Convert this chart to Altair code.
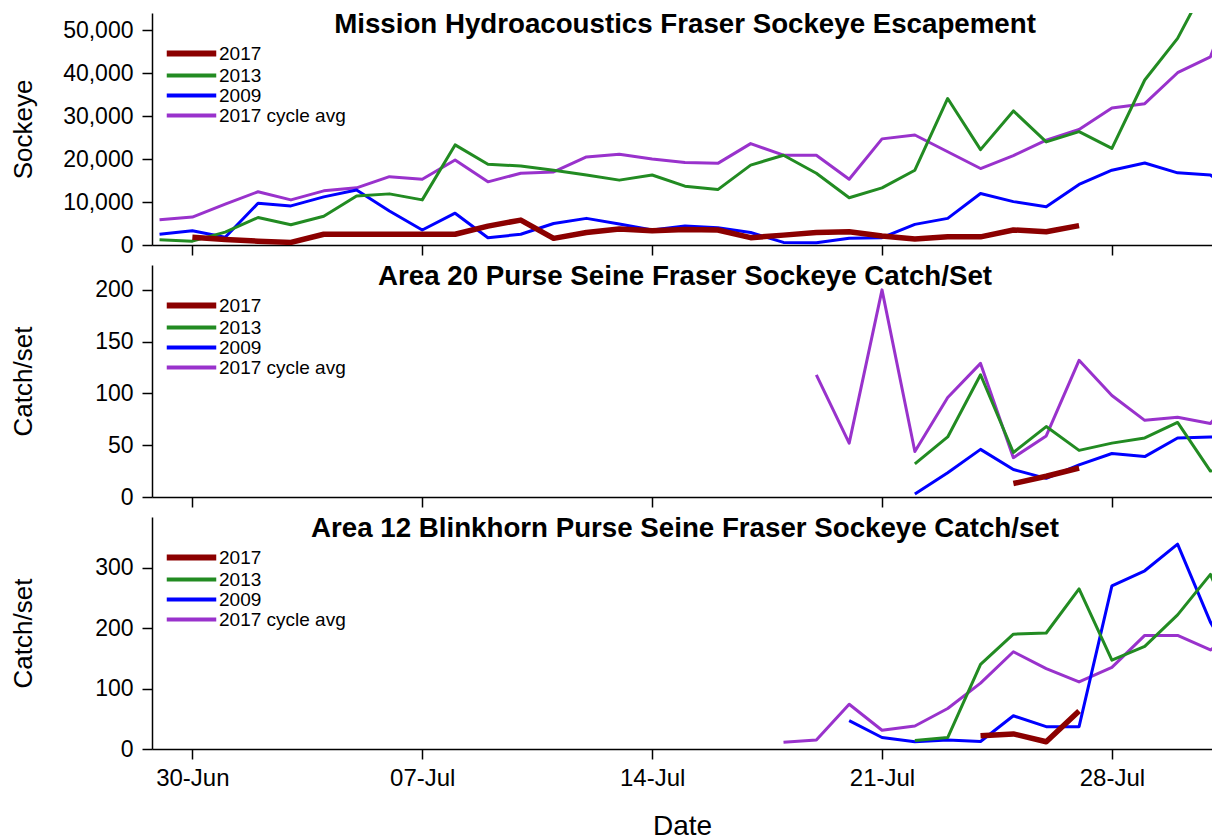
import altair as alt
import pandas as pd

FONT = "Liberation Sans"

DATES = [
    "2017-06-29T00:00:00", "2017-06-30T00:00:00", "2017-07-01T00:00:00", "2017-07-02T00:00:00",
    "2017-07-03T00:00:00", "2017-07-04T00:00:00", "2017-07-05T00:00:00", "2017-07-06T00:00:00",
    "2017-07-07T00:00:00", "2017-07-08T00:00:00", "2017-07-09T00:00:00", "2017-07-10T00:00:00",
    "2017-07-11T00:00:00", "2017-07-12T00:00:00", "2017-07-13T00:00:00", "2017-07-14T00:00:00",
    "2017-07-15T00:00:00", "2017-07-16T00:00:00", "2017-07-17T00:00:00", "2017-07-18T00:00:00",
    "2017-07-19T00:00:00", "2017-07-20T00:00:00", "2017-07-21T00:00:00", "2017-07-22T00:00:00",
    "2017-07-23T00:00:00", "2017-07-24T00:00:00", "2017-07-25T00:00:00", "2017-07-26T00:00:00",
    "2017-07-27T00:00:00", "2017-07-28T00:00:00", "2017-07-29T00:00:00", "2017-07-30T00:00:00",
    "2017-07-31T00:00:00", "2017-08-01T00:00:00",
]

SERIES = ["2017", "2013", "2009", "2017 cycle avg"]
COLORS = ["#8B0000", "#228B22", "#0000FF", "#9932CC"]
WIDTHS = {"2017": 5.5, "2013": 3, "2009": 3, "2017 cycle avg": 3}
DRAW_ORDER = ["2017 cycle avg", "2009", "2013", "2017"]

# Panel 1: Mission hydroacoustics escapement (Jun 29 .. Aug 1)
ESC_2017 = [None, 1800, 1300, 900, 600, 2500, 2500, 2500, 2500, 2500, 4400, 5800, 1550, 2900,
            3700, 3300, 3600, 3500, 1700, 2300, 2900, 3100, 2100, 1400, 1900, 1900, 3500, 3100,
            4500, None, None, None, None, None]
ESC_2013 = [1200, 900, 3000, 6400, 4700, 6700, 11400, 11900, 10500, 23300, 18800, 18400, 17400,
            16300, 15100, 16300, 13700, 12900, 18600, 20900, 16700, 11000, 13300, 17400, 34100,
            22200, 31200, 24000, 26400, 22500, 38400, 48100, 62500, None]
ESC_2009 = [2500, 3300, 1800, 9700, 9100, 11200, 12800, 7900, 3500, 7400, 1700, 2500, 5000, 6200,
            4900, 3500, 4400, 4000, 2900, 600, 500, 1550, 1700, 4800, 6200, 12000, 10100, 8900,
            14100, 17400, 19100, 16800, 16300, 10500]
ESC_AVG = [5900, 6500, 9500, 12400, 10500, 12600, 13300, 15900, 15300, 19800, 14700, 16700, 17000,
           20500, 21100, 20000, 19200, 19000, 23600, 20900, 20900, 15300, 24700, 25600, 21700,
           17800, 20800, 24400, 26900, 31900, 32900, 40100, 43800, 64000]

# Panel 2: Area 20 purse seine catch/set
A20_2017 = [None] * 26 + [13, 20, 28] + [None] * 5
A20_2013 = [None] * 23 + [32, 58, 118, 43, 68, 45, 52, 57, 72, 25, 32]
A20_2009 = [None] * 23 + [3, 23.5, 46, 26.5, 18, 31, 42, 39, 57, 58, 58.5]
A20_AVG = [None] * 20 + [118, 52, 200, 44, 96, 129, 38, 59, 132, 98, 74, 77, 71, 110]

# Panel 3: Area 12 Blinkhorn purse seine catch/set
A12_2017 = [None] * 25 + [22, 25, 12, 63] + [None] * 5
A12_2013 = [None] * 23 + [14, 19, 140, 190, 192, 265, 147, 170, 222, 289, 160]
A12_2009 = [None] * 21 + [47, 19, 12, 15, 12.5, 55, 37, 37, 270, 295, 339, 210, 118]
A12_AVG = [None] * 19 + [11, 15, 74, 31, 38, 67, 109, 161, 133, 111, 135, 188, 188, 164, 199]

PANELS = [
    dict(title="Mission Hydroacoustics Fraser Sockeye Escapement", ytitle="Sockeye",
         ymax=54000, yticks=[0, 10000, 20000, 30000, 40000, 50000],
         data={"2017": ESC_2017, "2013": ESC_2013, "2009": ESC_2009, "2017 cycle avg": ESC_AVG}),
    dict(title="Area 20 Purse Seine Fraser Sockeye Catch/Set", ytitle="Catch/set",
         ymax=224, yticks=[0, 50, 100, 150, 200],
         data={"2017": A20_2017, "2013": A20_2013, "2009": A20_2009, "2017 cycle avg": A20_AVG}),
    dict(title="Area 12 Blinkhorn Purse Seine Fraser Sockeye Catch/set", ytitle="Catch/set",
         ymax=384, yticks=[0, 100, 200, 300],
         data={"2017": A12_2017, "2013": A12_2013, "2009": A12_2009, "2017 cycle avg": A12_AVG}),
]

TICK_DATES = [alt.DateTime(year=2017, month=6, date=30),
              alt.DateTime(year=2017, month=7, date=7),
              alt.DateTime(year=2017, month=7, date=14),
              alt.DateTime(year=2017, month=7, date=21),
              alt.DateTime(year=2017, month=7, date=28)]
XDOMAIN = [alt.DateTime(year=2017, month=6, date=28, hours=18, minutes=30),
           alt.DateTime(year=2017, month=7, date=31, hours=1, minutes=9)]

W = 1060
H = 232
TITLE_X = 533


def make_panel(p, bottom):
    rows = []
    for s in SERIES:
        for d, v in zip(DATES, p["data"][s]):
            if v is not None:
                rows.append({"date": d, "value": v, "series": s})
    df = pd.DataFrame(rows)

    if bottom:
        xaxis = alt.Axis(values=TICK_DATES, format="%d-%b", title="Date", labelFontSize=24,
                         labelPadding=7, titleFontSize=28, titlePadding=22, labelFlush=False)
    else:
        xaxis = alt.Axis(values=TICK_DATES, labels=False, title=None)

    yaxis = alt.Axis(values=p["yticks"], format=",d", title=p["ytitle"], labelFontSize=23,
                     labelPadding=9, titleFontSize=26, titleX=-116)

    leg = alt.Legend(
        orient="none", legendX=30, legendY=31, symbolType="stroke",
        symbolSize=2450, labelFontSize=19, labelFont=FONT, labelOffset=18,
        rowPadding=-18, title=None, padding=0, labelColor="black",
        symbolStrokeWidth={"expr": "datum.value === '2017' ? 6 : 4"},
    )

    layers = []
    for s in DRAW_ORDER:
        layers.append(
            alt.Chart(df).transform_filter(alt.datum.series == s)
            .mark_line(clip=True, strokeJoin="round", strokeWidth=WIDTHS[s])
            .encode(
                x=alt.X("date:T", scale=alt.Scale(domain=XDOMAIN), axis=xaxis),
                y=alt.Y("value:Q", scale=alt.Scale(domain=[0, p["ymax"]], nice=False),
                        axis=yaxis),
                color=alt.Color("series:N", scale=alt.Scale(domain=SERIES, range=COLORS),
                                legend=leg),
            )
        )
    ttl = alt.Chart(alt.Data(values=[{"t": p["title"]}])).mark_text(
        font=FONT, fontSize=27.7, fontWeight="bold", color="black", baseline="alphabetic",
        align="center"
    ).encode(text="t:N", x=alt.value(TITLE_X), y=alt.value(20))
    return alt.layer(*layers, ttl).properties(width=W, height=H)


panels = [make_panel(p, i == len(PANELS) - 1) for i, p in enumerate(PANELS)]

chart = alt.vconcat(*panels, spacing=6).resolve_scale(
    x="independent", y="independent", color="independent"
).resolve_legend(
    color="independent"
).properties(
    padding={"left": 2, "top": 3, "right": 0, "bottom": 0}
).configure_view(
    strokeWidth=0
).configure_axis(
    grid=False, domainColor="black", tickColor="black", labelColor="black", titleColor="black",
    labelFont=FONT, titleFont=FONT, domainWidth=1.5, tickWidth=1.5, tickSize=10,
    titleFontWeight="normal"
)

chart.save("out.html", embed_options={"renderer": "svg", "actions": False})
